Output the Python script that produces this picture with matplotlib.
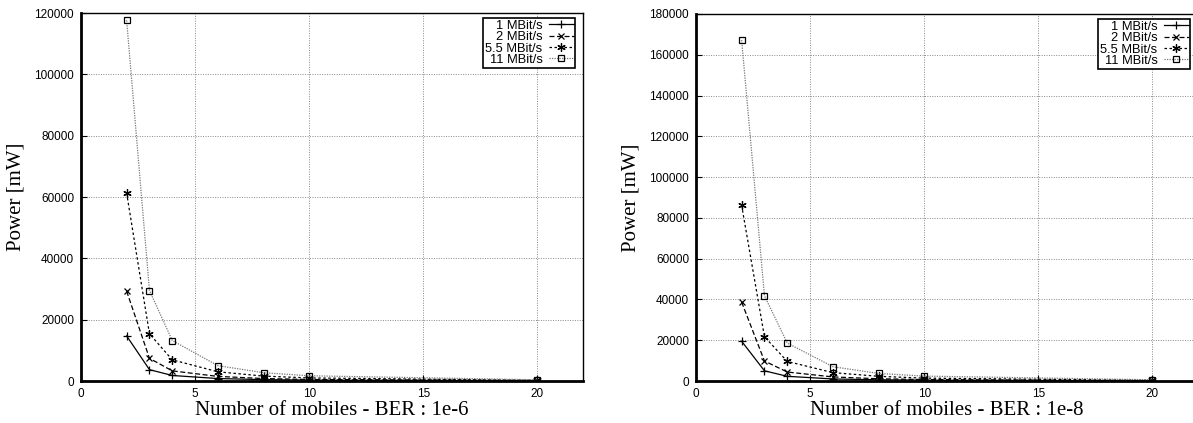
import matplotlib
matplotlib.use("Agg")
import matplotlib.pyplot as plt

# data
mobiles = [2, 3, 4, 6, 8, 10, 20]
rates = ["1 MBit/s", "2 MBit/s", "5.5 MBit/s", "11 MBit/s"]

# BER 1e-6
p6_1 = [14700, 3700, 1800, 800, 450, 300, 80]
p6_2 = [29300, 7400, 3300, 1500, 800, 500, 150]
p6_55 = [61300, 15400, 6900, 3000, 1600, 1000, 250]
p6_11 = [117600, 29500, 13200, 5000, 2700, 1700, 400]

# BER 1e-8
p8_1 = [19500, 5000, 2300, 1000, 600, 400, 100]
p8_2 = [38700, 9800, 4400, 2000, 1100, 700, 170]
p8_55 = [86200, 21700, 9600, 4100, 2300, 1400, 350]
p8_11 = [167200, 41800, 18600, 7000, 3700, 2400, 600]

styles = [
    dict(color="black", linestyle="-", marker="+", markersize=6),
    dict(color="black", linestyle=(0, (4, 2)), marker="x", markersize=5),
    dict(color="black", linestyle=(0, (2, 2)), marker=(6, 2, 0), markersize=6),
    dict(color="#777777", linestyle=(0, (1, 1)), marker="s", markersize=5,
         markerfacecolor="none", markeredgecolor="black"),
]

sans = "Liberation Sans"
serif = "Liberation Serif"

fig = plt.figure(figsize=(11.93, 4.23), dpi=100)
ax1 = fig.add_axes([81 / 1193, 42 / 423, 502 / 1193, 368 / 423])
ax2 = fig.add_axes([696 / 1193, 42 / 423, 502 / 1193, 367 / 423])


def draw(ax, series, ymax, ystep, ber):
    for name, vals, st in zip(rates, series, styles):
        ax.plot(mobiles, vals, label=name, linewidth=0.9, markeredgewidth=0.9, **st)
    ax.set_xlim(0, 22)
    ax.set_ylim(0, ymax)
    ax.set_xticks(range(0, 21, 5))
    ax.set_yticks(range(0, ymax + 1, ystep))
    ax.grid(True, color="#888888", linestyle=(0, (1, 1.5)), linewidth=0.7)
    ax.tick_params(direction="in", length=4, width=0.8, labelsize=8.5, pad=5)
    for lab in ax.get_xticklabels() + ax.get_yticklabels():
        lab.set_family(sans)
    for side in ["left", "bottom"]:
        ax.spines[side].set_linewidth(2)
    for side in ["top", "right"]:
        ax.spines[side].set_linewidth(1)
    ax.set_xlabel("Number of mobiles - BER : " + ber, family=serif, fontsize=15, labelpad=1)
    ax.set_ylabel("Power [mW]", family=serif, fontsize=15, labelpad=6)
    leg = ax.legend(loc="upper right", bbox_to_anchor=(0.985, 0.987),
                    markerfirst=False, fancybox=False,
                    prop={"family": sans, "size": 9.3}, borderpad=0.15,
                    labelspacing=-0.05, handlelength=1.9, handletextpad=0.5,
                    borderaxespad=0, framealpha=1)
    leg.get_frame().set_edgecolor("black")
    leg.get_frame().set_linewidth(1.2)


draw(ax1, [p6_1, p6_2, p6_55, p6_11], 120000, 20000, "1e-6")
draw(ax2, [p8_1, p8_2, p8_55, p8_11], 180000, 20000, "1e-8")

fig.savefig("out.png", dpi=100)
